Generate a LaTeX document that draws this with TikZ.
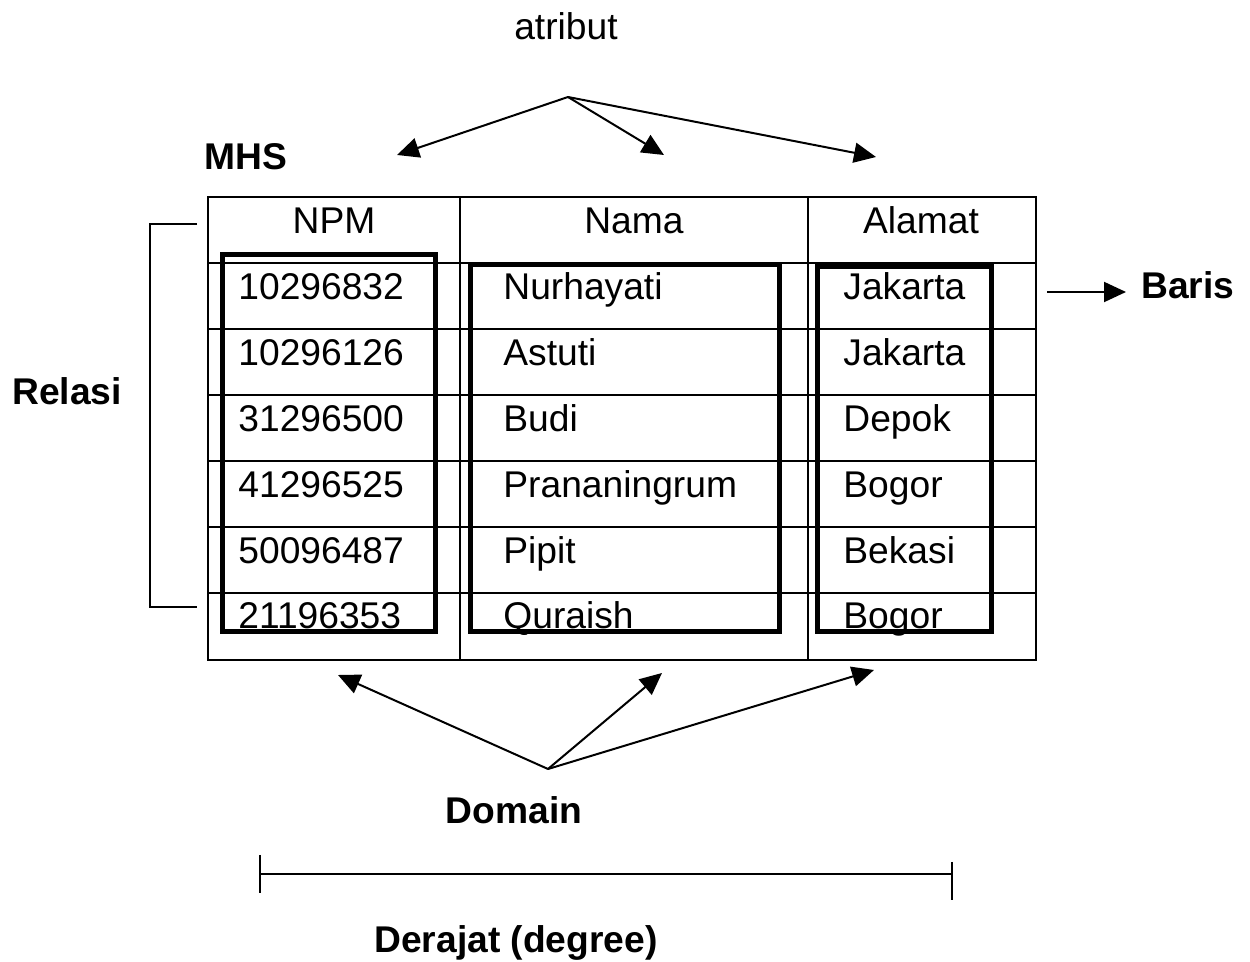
\documentclass[tikz,border=0pt]{standalone}
\usepackage{fontspec}
\setmainfont{Liberation Sans}
\usetikzlibrary{arrows.meta}

\begin{document}
\begin{tikzpicture}[x=0.5pt, y=-0.5pt, font=\fontsize{18.6}{22}\selectfont, inner sep=0pt,
  lbl/.style={font=\fontsize{18.6}{22}\selectfont\bfseries},
  grid/.style={line width=1pt},
  colbox/.style={line width=2.5pt},
  pointer/.style={line width=1pt, -{Triangle[length=11pt,width=10pt]}}]
\useasboundingbox (0,0) rectangle (1250,962);
\draw[grid] (208,197) rectangle (1036,660);
\draw[grid] (460,197)--(460,660) (808,197)--(808,660);
\foreach \y in {263,329,395,461,527,593} \draw[grid] (208,\y)--(1036,\y);
\foreach \x/\name in {334/NPM,634/Nama,921/Alamat} \node (h\name) at (\x,234) [anchor=base] {\name};
\foreach \y/\npm/\nama/\kota in {300/10296832/Nurhayati/Jakarta, 366/10296126/Astuti/Jakarta,
  432/31296500/Budi/Depok, 498/41296525/Prananingrum/Bogor, 564/50096487/Pipit/Bekasi,
  629/21196353/Quraish/Bogor} {
  \node (npm\y) at (238,\y) [anchor=base west] {\npm};
  \node (nama\y) at (503,\y) [anchor=base west] {\nama};
  \node (kota\y) at (843,\y) [anchor=base west] {\kota};
}
\draw[colbox] (222,255) rectangle (435,632);
\draw[colbox] (470,265) rectangle (779,632);
\draw[colbox] (817,267) rectangle (991,632);
\node (atribut) at (566,40) [anchor=base] {atribut};
\node[lbl] (mhs) at (246,157) {MHS};
\node[lbl] (relasi) at (67,391) {Relasi};
\node[lbl] (baris) at (1141,299) [anchor=base west] {Baris};
\node[lbl] (domain) at (514,810) {Domain};
\node[lbl] (derajat) at (516,953) [anchor=base] {Derajat (degree)};
\coordinate (atr) at (568,97);
\coordinate (dom) at (548,769);
\foreach \x/\y [count=\i] in {397/155,664/155,876/157} {
  \coordinate (atr\i) at (\x,\y);
  \draw[pointer] (atr)--(atr\i);
}
\foreach \x/\y [count=\i] in {338/675,662/673,874/670} {
  \coordinate (dom\i) at (\x,\y);
  \draw[pointer] (dom)--(dom\i);
}
\coordinate (bar) at (1047,292);
\coordinate (bartip) at (1126,292);
\draw[pointer] (bar)--(bartip);
\draw[grid] (197,224)--(150,224)--(150,607)--(197,607);
\coordinate (degl) at (260,874);
\coordinate (degr) at (952,874);
\draw[grid] (degl)--(degr) (260,855)--(260,893) (952,862)--(952,900);
\end{tikzpicture}
\end{document}
